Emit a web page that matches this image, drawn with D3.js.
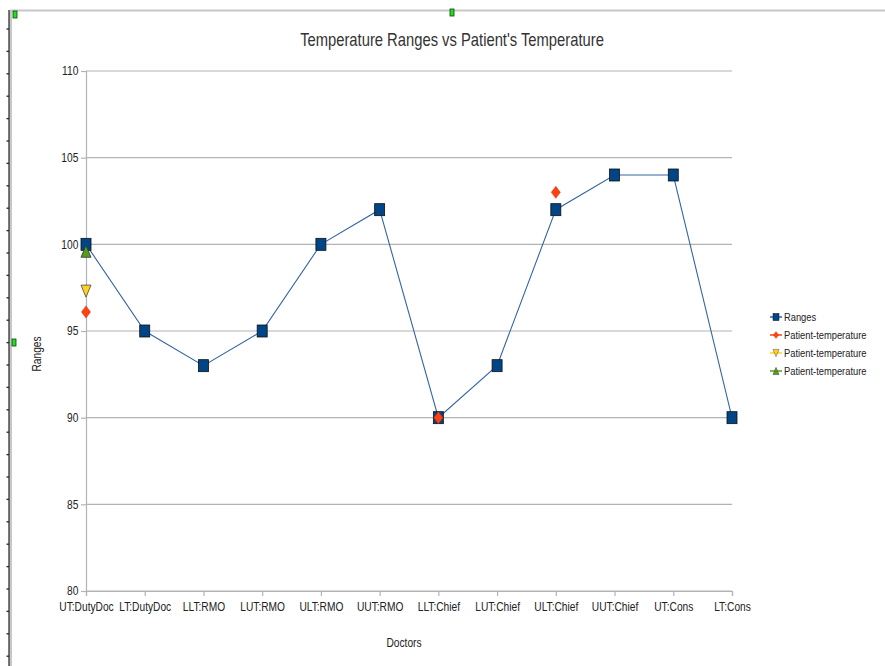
<!DOCTYPE html>
<html><head><meta charset="utf-8">
<script src="https://cdn.jsdelivr.net/npm/d3@7/dist/d3.min.js"></script>
<style>body{margin:0;background:#fff}svg{display:block}</style>
</head><body>
<script>
const categories = ["UT:DutyDoc","LT:DutyDoc","LLT:RMO","LUT:RMO","ULT:RMO","UUT:RMO","LLT:Chief","LUT:Chief","ULT:Chief","UUT:Chief","UT:Cons","LT:Cons"];
const ranges = [100,95,93,95,100,102,90,93,102,104,104,90];
const patient1 = [96.1,null,null,null,null,null,90,null,103,null,null,null];
const patient2 = [97.3,null,null,null,null,null,null,null,null,null,null,null];
const patient3 = [99.6,null,null,null,null,null,null,null,null,null,null,null];
const yTicks = [80,85,90,95,100,105,110];
const seriesNames = ["Ranges","Patient-temperature","Patient-temperature","Patient-temperature"];
const title = "Temperature Ranges vs Patient's Temperature";
const xTitle = "Doctors", yTitle = "Ranges";

const W=885,H=666;
const svg=d3.select("body").append("svg").attr("width",W).attr("height",H);
const font="'Liberation Sans',Arial,sans-serif";
const SX=0.85;

// frame decorations
svg.append("line").attr("x1",10).attr("x2",W).attr("y1",10.5).attr("y2",10.5).attr("stroke","#c8c8c8").attr("stroke-width",2);
svg.append("rect").attr("x",9).attr("y",10).attr("width",3).attr("height",H-10).attr("fill","#c8c8c8");
svg.append("line").attr("x1",9).attr("x2",9).attr("y1",10).attr("y2",H).attr("stroke","#222").attr("stroke-width",1.2);
for(let y=29;y<H;y+=22.4){svg.append("line").attr("x1",6.5).attr("x2",9).attr("y1",y).attr("y2",y).attr("stroke","#222").attr("stroke-width",1.3);}
[[13,11],[450,9],[12,339]].forEach(([x,y])=>svg.append("rect").attr("x",x).attr("y",y).attr("width",4).attr("height",7).attr("fill","#22dd22").attr("stroke","#114411").attr("stroke-width",0.8));

const L=86,R=732,T=71,B=591;
const x=d3.scalePoint().domain(categories).range([L,R]).padding(0);
const y=d3.scaleLinear().domain([80,110]).range([B,T]);

// grid
svg.append("g").selectAll("line").data(yTicks).join("line")
 .attr("x1",L).attr("x2",R).attr("y1",d=>y(d)).attr("y2",d=>y(d)).attr("stroke","#b3b3b3").attr("stroke-width",1.2);

// axes
const yAxis=svg.append("g").attr("transform",`translate(${L},0)`).call(d3.axisLeft(y).tickValues(yTicks).tickSize(5).tickPadding(4));
const xAxis=svg.append("g").attr("transform",`translate(0,${B})`).call(d3.axisBottom(x).tickSize(5).tickPadding(6));
[yAxis,xAxis].forEach(a=>{a.select(".domain").attr("stroke","#b3b3b3").attr("stroke-width",1.2);
 a.selectAll(".tick line").attr("stroke","#b3b3b3").attr("stroke-width",1.2);
 a.selectAll("text").attr("fill","#222").style("font-family",font).style("font-size","12px").attr("transform",`scale(${SX},1)`);});

function narrowText(x0,y0,str,size,anchor,sx,rot){
  const g=svg.append("g").attr("transform",`translate(${x0},${y0})${rot?` rotate(${rot})`:""} scale(${sx},1)`);
  return g.append("text").attr("text-anchor",anchor).style("font-family",font).style("font-size",size+"px").attr("fill","#222").text(str);
}
// titles
const tt=narrowText(452,46,title,18,"middle",1);
const tw=tt.node().getComputedTextLength();
tt.attr("fill","#333"); d3.select(tt.node().parentNode).attr("transform",`translate(452,46) scale(${304/tw},1)`);
narrowText(404,647,xTitle,12,"middle",SX);
narrowText(41,354,yTitle,12,"middle",SX,-90);

// line
const rangeData=categories.map((c,i)=>({c,v:ranges[i]}));
svg.append("path").datum(rangeData).attr("fill","none").attr("stroke","#3465a4").attr("stroke-width",1.1)
 .attr("d",d3.line().x(d=>x(d.c)).y(d=>y(d.v)));

const colors=["#004586","#ff420e","#ffd320","#579d1c"];
function marker(g,type,cx,cy){
  if(type===0) g.append("rect").attr("x",cx-5).attr("y",cy-6).attr("width",10).attr("height",12).attr("fill",colors[0]).attr("stroke","#111").attr("stroke-width",0.8);
  else if(type===1) g.append("path").attr("d",`M${cx},${cy-6}L${cx+4.5},${cy}L${cx},${cy+6}L${cx-4.5},${cy}Z`).attr("fill",colors[1]).attr("stroke","#c23010").attr("stroke-width",0.5);
  else if(type===2) g.append("path").attr("d",`M${cx-5},${cy-6}L${cx+5},${cy-6}L${cx},${cy+6}Z`).attr("fill",colors[2]).attr("stroke","#444").attr("stroke-width",0.8);
  else g.append("path").attr("d",`M${cx-5},${cy+6}L${cx+5},${cy+6}L${cx},${cy-6}Z`).attr("fill",colors[3]).attr("stroke","#333").attr("stroke-width",0.8);
}
const mk=svg.append("g");
rangeData.forEach(d=>marker(mk,0,x(d.c),y(d.v)));
[[patient2,2],[patient3,3],[patient1,1]].forEach(([arr,t])=>{
  arr.forEach((v,i)=>{ if(v!=null) marker(mk,t,x(categories[i]),y(v)); });
});

// legend
const lg=svg.append("g");
seriesNames.forEach((n,i)=>{
  const ly=317+i*18;
  lg.append("line").attr("x1",770).attr("x2",782).attr("y1",ly).attr("y2",ly).attr("stroke",i===0?"#3465a4":colors[i]).attr("stroke-width",1.5);
  const g=lg.append("g").attr("transform",`translate(776,${ly}) scale(0.6)`);
  marker(g,i,0,0);
  lg.append("g").attr("transform",`translate(784,${ly+4}) scale(${SX},1)`).append("text")
    .style("font-family",font).style("font-size","11px").attr("fill","#222").text(n);
});
</script>
</body></html>
